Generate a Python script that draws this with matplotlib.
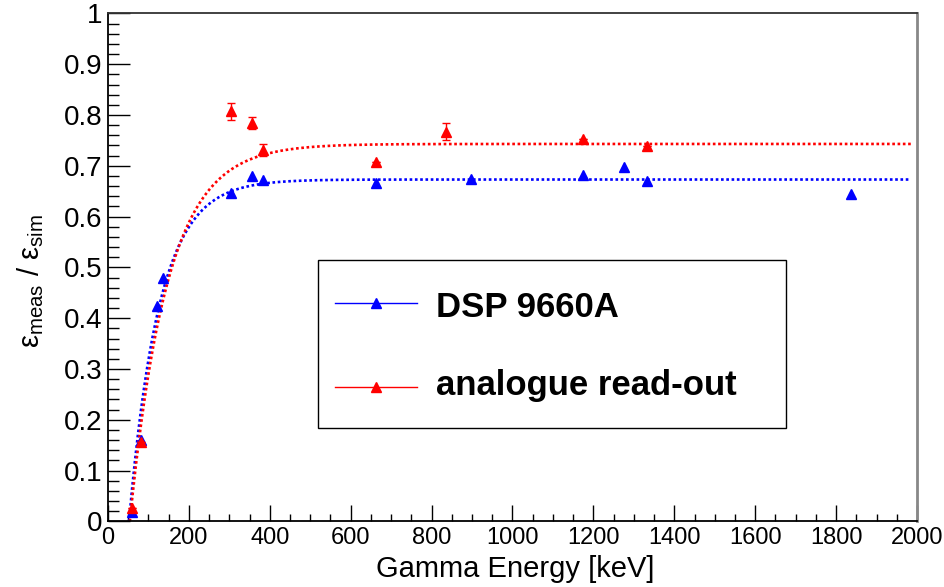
import numpy as np
import matplotlib
matplotlib.use("Agg")
import matplotlib.pyplot as plt
from matplotlib.ticker import MultipleLocator
from matplotlib.lines import Line2D
from matplotlib.patches import Rectangle

plt.rcParams['font.family'] = ['Liberation Sans', 'DejaVu Sans']
plt.rcParams['mathtext.fontset'] = 'custom'
plt.rcParams['mathtext.rm'] = 'Liberation Sans'
plt.rcParams['mathtext.it'] = 'Liberation Sans'

# ---- data ----
E_dsp = [59.5, 81.0, 122.1, 136.5, 302.9, 356.0, 383.8, 661.7, 898.0, 1173.2, 1274.5, 1332.5, 1836.1]
eff_dsp = [0.018, 0.160, 0.424, 0.480, 0.647, 0.679, 0.672, 0.667, 0.674, 0.681, 0.698, 0.671, 0.645]

E_ana = [59.5, 81.0, 302.9, 356.0, 383.8, 661.7, 834.8, 1173.2, 1332.5]
eff_ana = [0.026, 0.157, 0.807, 0.785, 0.731, 0.708, 0.767, 0.752, 0.738]
err_ana = [0.0, 0.0, 0.016, 0.012, 0.011, 0.0, 0.017, 0.0, 0.0]

# saturation fit parameters  f(E) = A * (1 - exp(-(E - E0)/tau))
fit_dsp = dict(A=0.673, E0=52.0, tau=75.0)
fit_ana = dict(A=0.743, E0=54.0, tau=93.0)
fit_Emax = 1985.0

labels = ["DSP 9660A", "analogue read-out"]
col_dsp = "#0000ff"
col_ana = "#ff0000"

W, H = 945, 587
fig = plt.figure(figsize=(W / 100, H / 100), dpi=100)

def fx(px):
    return px / W

def fy(py):
    return 1 - py / H

x0p, x1p, y0p, y1p = 108, 917, 521.4, 13.4
ax = fig.add_axes([fx(x0p), fy(y0p), fx(x1p) - fx(x0p), fy(y1p) - fy(y0p)])
ax.set_xlim(0, 2000)
ax.set_ylim(0, 1)

def model(p, E):
    return p['A'] * (1 - np.exp(-(E - p['E0']) / p['tau']))

for p, c in [(fit_dsp, col_dsp), (fit_ana, col_ana)]:
    E = np.linspace(p['E0'], fit_Emax, 800)
    ax.plot(E, model(p, E), color=c, lw=1.9, linestyle=(0, (1.0, 1.0)),
            dash_capstyle='butt', zorder=2)

ax.plot(E_dsp, eff_dsp, linestyle='none', marker='^', ms=7.5, color=col_dsp,
        mec=col_dsp, zorder=3)
ax.errorbar(E_ana, eff_ana, yerr=err_ana, fmt='^', ms=7.5, color=col_ana,
            ecolor=col_ana, elinewidth=1.0, capsize=3, capthick=1.0, zorder=4)

# axes styling
ax.xaxis.set_major_locator(MultipleLocator(200))
ax.xaxis.set_minor_locator(MultipleLocator(50))
ax.yaxis.set_major_locator(MultipleLocator(0.1))
ax.yaxis.set_minor_locator(MultipleLocator(0.02))
ax.set_yticks(np.arange(0, 1.0001, 0.1))
ax.set_yticklabels(['0', '0.1', '0.2', '0.3', '0.4', '0.5', '0.6', '0.7', '0.8', '0.9', '1'])
ax.set_xticks(np.arange(0, 2001, 200))
ax.set_xticklabels([str(v) for v in range(0, 2001, 200)])

ax.tick_params(axis='y', which='major', direction='in', length=15.8, width=1.0,
               labelsize=20, pad=4, right=False)
ax.tick_params(axis='y', which='minor', direction='in', length=7.9, width=1.0, right=False)
ax.tick_params(axis='x', which='major', direction='in', length=11.5, width=1.0,
               labelsize=17, pad=4, top=False)
ax.tick_params(axis='x', which='minor', direction='in', length=5.2, width=1.0, top=False)

for s in ['left', 'bottom']:
    ax.spines[s].set_color('black')
    ax.spines[s].set_linewidth(1.3)
ax.spines['top'].set_color('#333333')
ax.spines['top'].set_linewidth(1.3)
ax.spines['right'].set_color('#888888')
ax.spines['right'].set_linewidth(2.0)

fig.text(fx(515), fy(577), "Gamma Energy [keV]", fontsize=21, ha='center', va='baseline')
fig.text(fx(31), fy(281), r"$\mathrm{ε}_{\mathrm{meas}}\ /\ \mathrm{ε}_{\mathrm{sim}}$",
         fontsize=21, rotation=90, ha='center', va='center')

# legend box
lx0, lx1, ly0, ly1 = 318, 786, 260, 428
fig.patches.append(Rectangle((fx(lx0), fy(ly1)), fx(lx1) - fx(lx0), fy(ly0) - fy(ly1),
                             transform=fig.transFigure, fill=True, facecolor='white',
                             edgecolor='black', lw=1.0, zorder=5))
for (lab, c, ly, tb) in [(labels[0], col_dsp, 302.7, 316.7), (labels[1], col_ana, 386.7, 395.5)]:
    fig.add_artist(Line2D([fx(335), fx(417)], [fy(ly), fy(ly)], color=c, lw=1.0, zorder=6))
    fig.add_artist(Line2D([fx(376.5)], [fy(ly)], marker='^', ms=7.5, color=c, zorder=7))
    fig.text(fx(436), fy(tb), lab, fontsize=25, fontweight='bold', ha='left',
             va='baseline', zorder=7)

fig.savefig("out.png", dpi=100)
